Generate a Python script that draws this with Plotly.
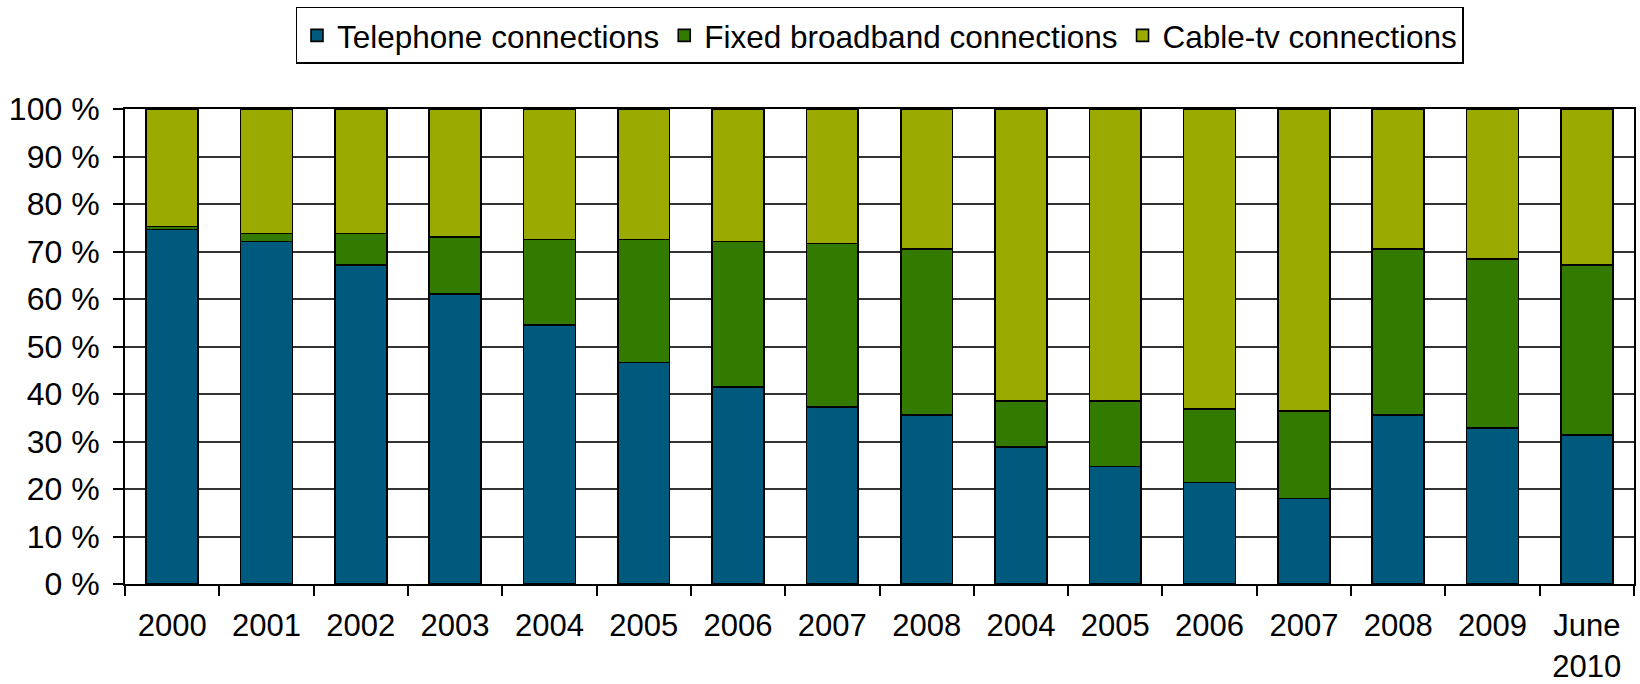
import plotly.graph_objects as go

categories = ["2000", "2001", "2002", "2003", "2004", "2005", "2006", "2007", "2008",
              "2004", "2005", "2006", "2007", "2008", "2009", "June<br>2010"]
telephone = [74.6, 72.1, 67.1, 61.1, 54.5, 46.6, 41.5, 37.3, 35.6, 28.8, 24.7, 21.4, 18.0, 35.6, 32.8, 31.4]
broadband = [0.7, 1.7, 6.7, 11.9, 18.0, 25.9, 30.6, 34.4, 34.9, 9.7, 13.8, 15.5, 18.4, 34.9, 35.6, 35.7]
cabletv = [24.7, 26.2, 26.2, 27.0, 27.5, 27.5, 27.9, 28.3, 29.5, 61.5, 61.5, 63.1, 63.6, 29.5, 31.6, 32.9]
series_names = ["Telephone connections", "Fixed broadband connections", "Cable-tv connections"]
colors = ["#005A7E", "#327A00", "#9BAA00"]
y_ticks = [0, 10, 20, 30, 40, 50, 60, 70, 80, 90, 100]
y_labels = [f"{v} %" for v in y_ticks]

pos = list(range(len(categories)))
FONT = "Liberation Sans, Arial, sans-serif"

fig = go.Figure()
for name, vals, col in zip(series_names, [telephone, broadband, cabletv], colors):
    fig.add_trace(go.Bar(
        x=pos, y=vals, name=name,
        marker=dict(color=col, line=dict(color="black", width=1.6)),
        width=0.55,
    ))

fig.update_layout(
    barmode="stack",
    width=1640, height=684,
    margin=dict(l=125, r=6, t=109, b=100, autoexpand=False),
    paper_bgcolor="white", plot_bgcolor="white",
    font=dict(family=FONT, size=32, color="black"),
    legend=dict(
        orientation="h", x=0.5, xanchor="center", y=1.215, yanchor="top",
        bordercolor="black", borderwidth=1.5, font=dict(size=31.5),
        traceorder="normal",
    ),
    showlegend=True,
)
fig.update_xaxes(
    range=[-0.5, len(categories) - 0.5],
    tickmode="array", tickvals=pos, ticktext=categories,
    ticks="", showgrid=False,
    showline=True, linecolor="black", linewidth=2, mirror=True,
    tickfont=dict(size=31),
    ticklabelstandoff=13,
    minor=dict(tickmode="array", tickvals=[p - 0.5 for p in pos] + [len(categories) - 0.5],
               ticks="outside", ticklen=10, tickwidth=1.6, tickcolor="black", showgrid=False),
    zeroline=False,
)
fig.update_yaxes(
    range=[0, 100],
    tickmode="array", tickvals=y_ticks, ticktext=y_labels,
    ticks="outside", ticklen=10, tickwidth=1.6, tickcolor="black",
    showgrid=True, gridcolor="#333333", gridwidth=1.7,
    showline=True, linecolor="black", linewidth=2, mirror=True,
    tickfont=dict(size=32),
    ticklabelstandoff=7,
    zeroline=False,
)

fig.write_html("out.html", config={"displayModeBar": False},
               post_script="document.body.style.margin='0px';document.body.style.overflow='hidden';")
